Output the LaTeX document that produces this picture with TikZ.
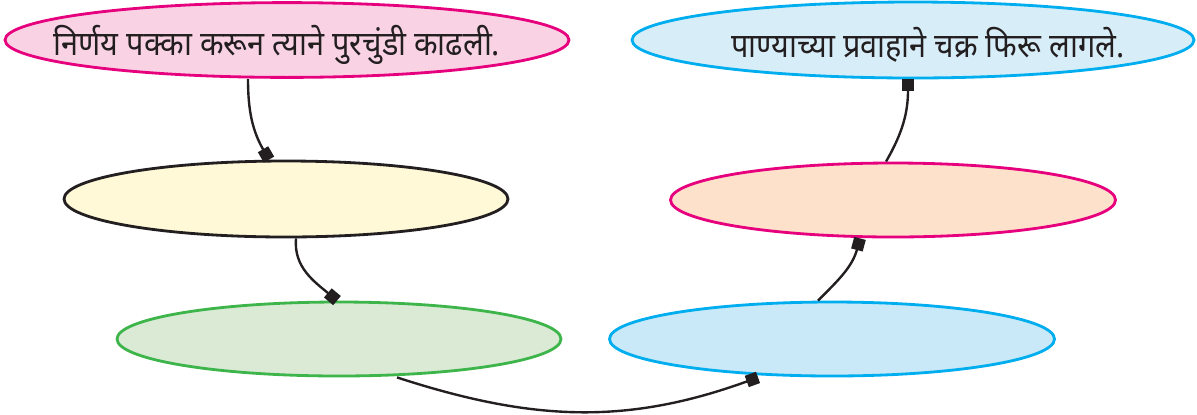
\documentclass[tikz,border=0pt]{standalone}
\usepackage{fontspec}
\newfontfamily\marathi[Script=Devanagari,FakeStretch=0.91]{Noto Sans}
\usetikzlibrary{arrows.meta,shapes.geometric}

\definecolor{ink}{HTML}{231F20}
\definecolor{magline}{HTML}{E6007E}
\definecolor{cyanline}{HTML}{00AEEF}
\definecolor{grnline}{HTML}{3DB54A}
\definecolor{pinkfill}{HTML}{F9D3E4}
\definecolor{skyfill}{HTML}{D7EDF8}
\definecolor{creamfill}{HTML}{FFF9D7}
\definecolor{peachfill}{HTML}{FDE1CA}
\definecolor{mintfill}{HTML}{DAEAD5}
\definecolor{icefill}{HTML}{C9E8F8}

\begin{document}
\begin{tikzpicture}[>={Square[length=8.5pt,width=8.5pt]},
	bubble/.style={ellipse,line width=2pt,inner sep=0pt,minimum width=11.1cm,minimum height=1.87cm},
	link/.style={->,line width=1.7pt,draw=ink},
	say/.style={font=\marathi\fontsize{24}{28}\selectfont,text=ink}]

	\useasboundingbox (0,0) rectangle (29.925,-10.35);
%	\draw[gray,step=1] (0,-11) grid (30,0);

	% top row
	\node[bubble,draw=magline,fill=pinkfill,minimum width=14.1cm] (step1) at (7.175,-1.0) {};
	\node[bubble,draw=cyanline,fill=skyfill,minimum width=14.05cm,minimum height=1.9cm] (last) at (22.825,-1.0) {};

	\node[say] (step1txt) at ([xshift=-0.25cm,yshift=-0.125cm]step1.center) {निर्णय पक्का करून त्याने पुरचुंडी काढली.};
	\node[say] (lasttxt) at ([xshift=0.375cm,yshift=-0.125cm]last.center) {पाण्याच्या प्रवाहाने चक्र फिरू लागले.};

	% middle row
	\node[bubble,draw=ink,fill=creamfill,minimum height=1.9cm] (step2) at (7.15,-4.975) {};
	\node[bubble,draw=magline,fill=peachfill,minimum width=11.125cm,minimum height=1.85cm] (step5) at (22.325,-5.0) {};

	% bottom row
	\node[bubble,draw=grnline,fill=mintfill,minimum height=1.85cm] (step3) at (8.475,-8.475) {};
	\node[bubble,draw=cyanline,fill=icefill,minimum width=11.125cm,minimum height=1.85cm] (step4) at (20.8,-8.475) {};

	%
	\draw[link] ([xshift=-0.975cm]step1.south) to[out=-90,in=120] ([xshift=-0.425cm]step2.north);
	\draw[link] ([xshift=0.25cm]step2.south) to[out=-95,in=140] ([xshift=-0.05cm]step3.north);
	\draw[link] ([xshift=1.45cm]step3.south) to[out=-18,in=-160] ([xshift=-1.85cm]step4.south);
	\draw[link] ([xshift=-0.35cm]step4.north) to[out=45,in=-105] ([xshift=-0.825cm]step5.south);
	\draw[link] ([xshift=-0.175cm]step5.north) to[out=60,in=-90] ([xshift=-0.125cm]last.south);

\end{tikzpicture}
\end{document}
